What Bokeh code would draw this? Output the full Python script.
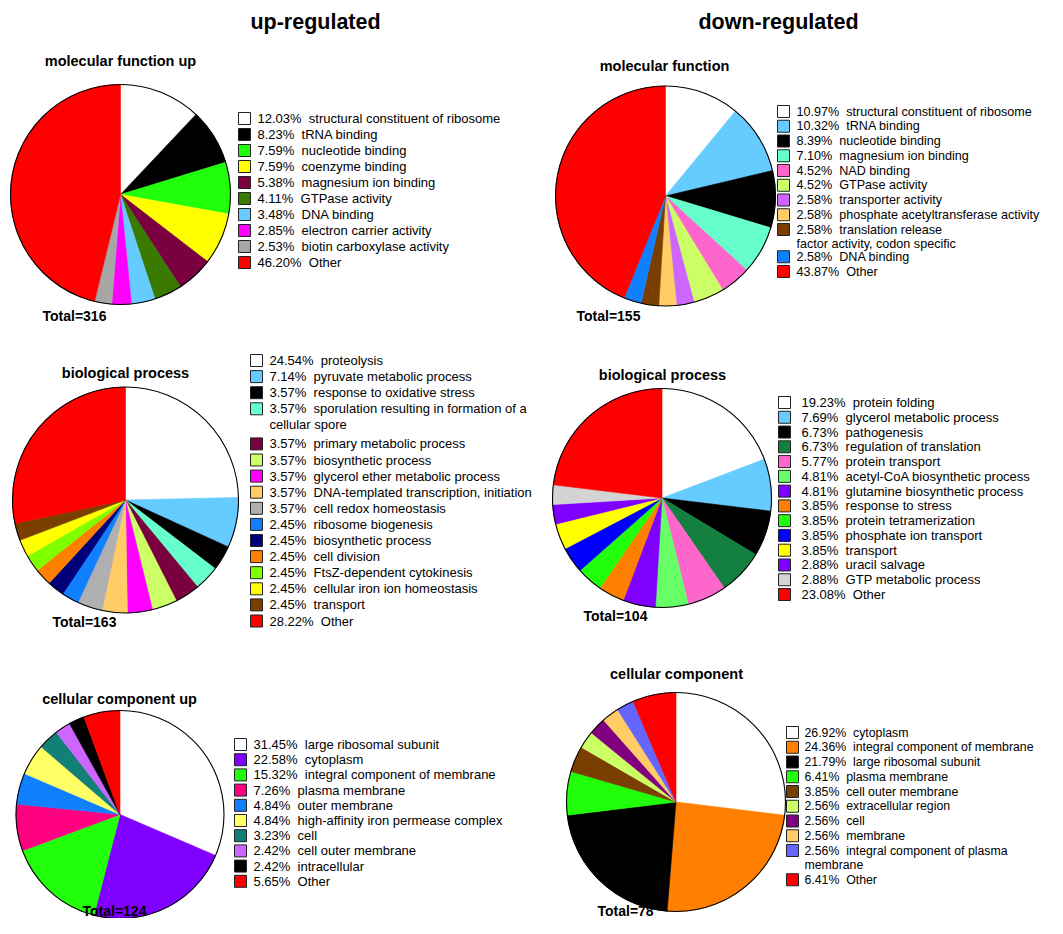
import math
from bokeh.plotting import figure
from bokeh.models import Range1d, ColumnDataSource
from bokeh.core.properties import value
from bokeh.embed import file_html
from bokeh.resources import INLINE

# ---------------- DATA ----------------
column_titles = ["up-regulated", "down-regulated"]

mf_up_title = "molecular function up"
mf_up_total = "Total=316"
mf_up_labels = ["structural constituent of ribosome", "tRNA binding", "nucleotide binding",
                "coenzyme binding", "magnesium ion binding", "GTPase activity", "DNA binding",
                "electron carrier activity", "biotin carboxylase activity", "Other"]
mf_up_pct = [12.03, 8.23, 7.59, 7.59, 5.38, 4.11, 3.48, 2.85, 2.53, 46.20]
mf_up_colors = ["#FFFFFF", "#000000", "#22FF0A", "#FFFF00", "#7A0040", "#3A7A00",
                "#66CCFF", "#FF00FF", "#A6A6A6", "#FF0000"]

mf_dn_title = "molecular function"
mf_dn_total = "Total=155"
mf_dn_labels = ["structural constituent of ribosome", "tRNA binding", "nucleotide binding",
                "magnesium ion binding", "NAD binding", "GTPase activity", "transporter activity",
                "phosphate acetyltransferase activity",
                "translation release\nfactor activity, codon specific", "DNA binding", "Other"]
mf_dn_pct = [10.97, 10.32, 8.39, 7.10, 4.52, 4.52, 2.58, 2.58, 2.58, 2.58, 43.87]
mf_dn_colors = ["#FFFFFF", "#66CCFF", "#000000", "#66FFCC", "#FF66CC", "#CCFF66",
                "#CC66FF", "#FFCC66", "#7A3F00", "#1080FF", "#FF0000"]

bp_up_title = "biological process"
bp_up_total = "Total=163"
bp_up_labels = ["proteolysis", "pyruvate metabolic process", "response to oxidative stress",
                "sporulation resulting in formation of a\ncellular spore",
                "primary metabolic process", "biosynthetic process",
                "glycerol ether metabolic process", "DNA-templated transcription, initiation",
                "cell redox homeostasis", "ribosome biogenesis", "biosynthetic process",
                "cell division", "FtsZ-dependent cytokinesis", "cellular iron ion homeostasis",
                "transport", "Other"]
bp_up_pct = [24.54, 7.14, 3.57, 3.57, 3.57, 3.57, 3.57, 3.57, 3.57, 2.45, 2.45, 2.45,
             2.45, 2.45, 2.45, 28.22]
bp_up_colors = ["#FFFFFF", "#66CCFF", "#000000", "#66FFCC", "#7A0040", "#CCFF66",
                "#FF00FF", "#FFCC66", "#B0B0B0", "#1080FF", "#00007A", "#FF7F00",
                "#80FF00", "#FFFF00", "#7A3F00", "#FF0000"]

bp_dn_title = "biological process"
bp_dn_total = "Total=104"
bp_dn_labels = ["protein folding", "glycerol metabolic process", "pathogenesis",
                "regulation of translation", "protein transport",
                "acetyl-CoA biosynthetic process", "glutamine biosynthetic process",
                "response to stress", "protein tetramerization", "phosphate ion transport",
                "transport", "uracil salvage", "GTP metabolic process", "Other"]
bp_dn_pct = [19.23, 7.69, 6.73, 6.73, 5.77, 4.81, 4.81, 3.85, 3.85, 3.85, 3.85, 2.88,
             2.88, 23.08]
bp_dn_colors = ["#FFFFFF", "#66CCFF", "#000000", "#138040", "#FF66CC", "#66FF66",
                "#8000FF", "#FF7F00", "#22FF0A", "#0000FF", "#FFFF00", "#8000FF",
                "#D3D3D3", "#FF0000"]

cc_up_title = "cellular component up"
cc_up_total = "Total=124"
cc_up_labels = ["large ribosomal subunit", "cytoplasm", "integral component of membrane",
                "plasma membrane", "outer membrane", "high-affinity iron permease complex",
                "cell", "cell outer membrane", "intracellular", "Other"]
cc_up_pct = [31.45, 22.58, 15.32, 7.26, 4.84, 4.84, 3.23, 2.42, 2.42, 5.65]
cc_up_colors = ["#FFFFFF", "#8000FF", "#22FF0A", "#FF0080", "#1080FF", "#FFFF66",
                "#138078", "#CC66FF", "#000000", "#FF0000"]

cc_dn_title = "cellular component"
cc_dn_total = "Total=78"
cc_dn_labels = ["cytoplasm", "integral component of membrane", "large ribosomal subunit",
                "plasma membrane", "cell outer membrane", "extracellular region", "cell",
                "membrane", "integral component of plasma\nmembrane", "Other"]
cc_dn_pct = [26.92, 24.36, 21.79, 6.41, 3.85, 2.56, 2.56, 2.56, 2.56, 6.41]
cc_dn_colors = ["#FFFFFF", "#FF8000", "#000000", "#22FF0A", "#7A3F00", "#CCFF66",
                "#800080", "#FFCC66", "#6666FF", "#FF0000"]

# ---------------- FIGURE ----------------
W, H = 1047, 918
FONT = value("Liberation Sans")
p = figure(width=W, height=H, x_range=Range1d(0, W), y_range=Range1d(H, 0),
           output_backend="svg", toolbar_location=None, min_border=0,
           x_axis_location=None, y_axis_location=None)
p.grid.visible = False
p.outline_line_color = None


def draw_pie(cx, cy, r, pct, colors):
    tot = sum(pct)
    c = 0.0
    starts, ends = [], []
    for v in pct:
        starts.append(math.pi / 2 - 2 * math.pi * c / tot)
        c += v
        ends.append(math.pi / 2 - 2 * math.pi * c / tot)
    n = len(pct)
    src = ColumnDataSource(dict(x=[cx] * n, y=[cy] * n, s=starts, e=ends, col=colors))
    p.wedge(x="x", y="y", radius=r, radius_units="screen", start_angle="s", end_angle="e",
            direction="clock", fill_color="col", line_color="col", line_width=0.6, source=src)
    p.circle(x=[cx], y=[cy], radius=r, radius_units="screen", fill_color=None,
             line_color="black", line_width=1.1)


def draw_legend(xbox, xtext, y0, dy, wrap_extra, pct, labels, colors, size="13px"):
    bx, by, bc, tx, ty, tt = [], [], [], [], [], []
    y = y0
    for v, lab, col in zip(pct, labels, colors):
        parts = lab.split("\n")
        bx.append(xbox + 6)
        by.append(y)
        bc.append(col)
        tx.append(xtext)
        ty.append(y)
        tt.append(f"{v:.2f}%\u00a0\u00a0{parts[0]}")
        if len(parts) > 1:
            tx.append(xtext)
            ty.append(y + dy)
            tt.append(parts[1])
            y += wrap_extra
        y += dy
    p.rect(x=bx, y=by, width=12, height=12, fill_color=bc, line_color="#222222", line_width=1)
    p.text(x=tx, y=ty, text=tt, text_font=FONT, text_font_size=size,
           text_baseline="middle", text_align="left", text_color="black")


def label(x, y, txt, size, align="center", bold=True):
    p.text(x=[x], y=[y], text=[txt], text_font=FONT, text_font_size=size,
           text_font_style="bold" if bold else "normal", text_align=align,
           text_baseline="middle", text_color="black")


# column headers
label(315, 21, column_titles[0], "21.5px")
label(778, 21, column_titles[1], "21.5px")

# panel 1: molecular function up
label(120, 60, mf_up_title, "14.5px")
draw_pie(120, 194, 110, mf_up_pct, mf_up_colors)
label(42, 315, mf_up_total, "14px", align="left")
draw_legend(238, 257, 118, 16.0, 0, mf_up_pct, mf_up_labels, mf_up_colors)

# panel 2: molecular function down
label(664, 65, mf_dn_title, "14.5px")
draw_pie(665, 195.5, 110, mf_dn_pct, mf_dn_colors)
label(576, 315, mf_dn_total, "14px", align="left")
draw_legend(777, 796, 111, 14.75, 12.5, mf_dn_pct, mf_dn_labels, mf_dn_colors, "12.6px")

# panel 3: biological process up
label(125, 372, bp_up_title, "14.5px")
draw_pie(125, 499.5, 113, bp_up_pct, bp_up_colors)
label(52, 621, bp_up_total, "14px", align="left")
draw_legend(250, 269, 360, 16.1, 19, bp_up_pct, bp_up_labels, bp_up_colors)

# panel 4: biological process down
label(662, 374, bp_dn_title, "14.5px")
draw_pie(661.5, 497.5, 109.5, bp_dn_pct, bp_dn_colors)
label(583, 615, bp_dn_total, "14px", align="left")
draw_legend(778, 801, 402, 14.77, 0, bp_dn_pct, bp_dn_labels, bp_dn_colors)

# panel 5: cellular component up
label(119, 698, cc_up_title, "14.5px")
draw_pie(119.5, 814, 104, cc_up_pct, cc_up_colors)
label(82, 910, cc_up_total, "14px", align="left")
draw_legend(234, 253, 744, 15.2, 0, cc_up_pct, cc_up_labels, cc_up_colors)

# panel 6: cellular component down
label(676, 673, cc_dn_title, "14.5px")
draw_pie(675.5, 801.5, 109.5, cc_dn_pct, cc_dn_colors)
label(597, 910, cc_dn_total, "14px", align="left")
draw_legend(786, 804, 732, 14.75, 14.5, cc_dn_pct, cc_dn_labels, cc_dn_colors, "12.3px")

open("out.html", "w").write(file_html(p, INLINE))
